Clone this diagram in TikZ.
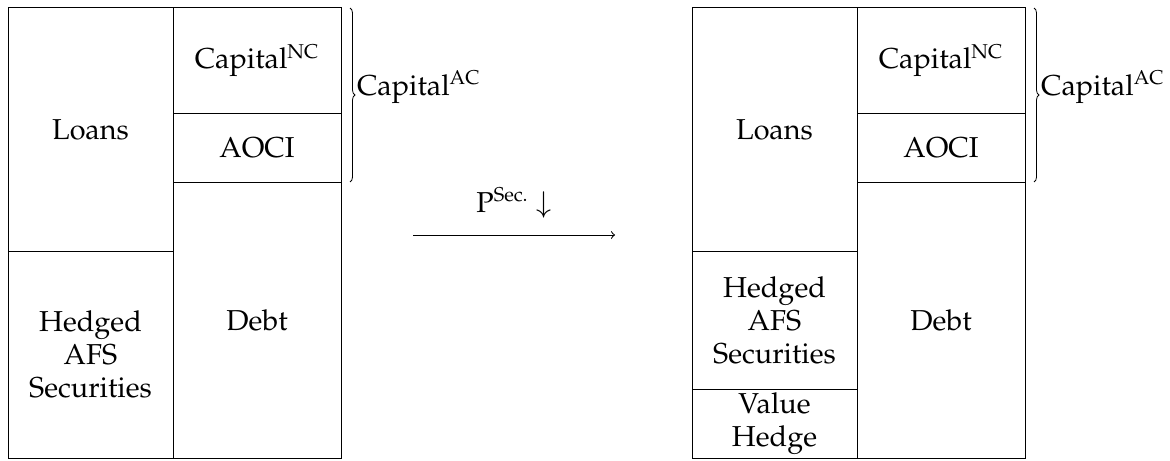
\documentclass[tikz,border=0pt]{standalone}
\usepackage[T1]{fontenc}
\usepackage{mathpazo}
\usetikzlibrary{positioning, decorations.pathreplacing}

\begin{document}
\begin{tikzpicture}[x=0.5pt, y=-0.5pt, every node/.style={font=\fontsize{14.4}{16.5}\selectfont},
  box/.style={draw, line width=0.5pt, outer sep=0pt, inner sep=2pt, align=center},
  assetcol/.style={box, minimum width=82.5pt},
  claimcol/.style={box, minimum width=84pt},
  capbrace/.style={decorate, decoration={brace, amplitude=2.5pt}, line width=0.4pt}]
  \useasboundingbox (0,0) rectangle (1170,460);

  % balance sheet before the shock
  \node[assetcol, minimum height=121.5pt, anchor=north west] (loansA) at (8,8) {Loans};
  \node[assetcol, minimum height=103.5pt, below=0pt of loansA] (hedgedA) {Hedged\\AFS\\Securities};
  \node[claimcol, minimum height=52.5pt, right=0pt of loansA.north east, anchor=north west] (capA) {Capital\textsuperscript{NC}};
  \node[claimcol, minimum height=34.5pt, below=0pt of capA] (aociA) {AOCI};
  \node[claimcol, minimum height=138pt, below=0pt of aociA] (debtA) {Debt};
  \draw[capbrace] ([xshift=4.5pt]capA.north east) -- ([xshift=4.5pt]aociA.south east)
    node[midway, right=0pt, yshift=4pt] (capacA) {Capital\textsuperscript{AC}};

  % shock
  \coordinate (shockL) at (413,235);
  \coordinate (shockR) at (615,235);
  \draw[->, line width=0.5pt] (shockL) -- (shockR) node[midway, above=5pt] (shock) {P\textsuperscript{Sec.} $\downarrow$};

  % balance sheet after the shock
  \node[assetcol, minimum height=121.5pt, anchor=north west] (loansB) at (692,8) {Loans};
  \node[assetcol, minimum height=69pt, below=0pt of loansB] (hedgedB) {Hedged\\AFS\\Securities};
  \node[assetcol, minimum height=34.5pt, below=0pt of hedgedB] (valueB) {Value\\Hedge};
  \node[claimcol, minimum height=52.5pt, right=0pt of loansB.north east, anchor=north west] (capB) {Capital\textsuperscript{NC}};
  \node[claimcol, minimum height=34.5pt, below=0pt of capB] (aociB) {AOCI};
  \node[claimcol, minimum height=138pt, below=0pt of aociB] (debtB) {Debt};
  \draw[capbrace] ([xshift=4.5pt]capB.north east) -- ([xshift=4.5pt]aociB.south east)
    node[midway, right=0pt, yshift=4pt] (capacB) {Capital\textsuperscript{AC}};
\end{tikzpicture}
\end{document}
